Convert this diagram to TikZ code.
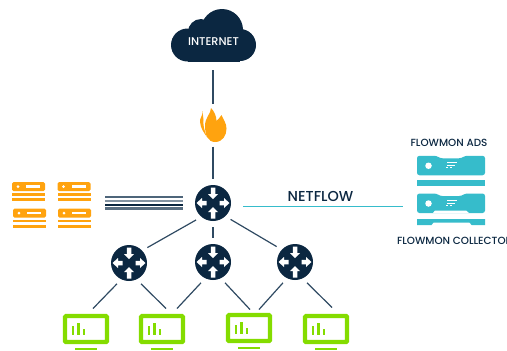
\documentclass[tikz,border=0pt]{standalone}
\usepackage{fontspec}
\setmainfont{Poppins Medium}
\usetikzlibrary{calc}
\definecolor{navy}{HTML}{0B2741}
\definecolor{wire}{HTML}{2F4A62}
\definecolor{amber}{HTML}{FFA30F}
\definecolor{teal}{HTML}{36BCCB}
\definecolor{lime}{HTML}{84DC00}
\begin{document}
\begin{tikzpicture}[inner sep=0pt,outer sep=0pt,
wire/.style={draw=wire,line width=0.024cm},
router/.style={circle,fill=navy,minimum size=0.72cm,outer sep=0.12cm},
monitor/.style={draw=lime,fill=white,line width=0.085cm,rounded corners=0.02cm,minimum width=0.84cm,minimum height=0.52cm},
srvbox/.style={minimum width=0.67cm,minimum height=0.40cm},
adsbox/.style={minimum width=1.36cm,minimum height=0.39cm},
label/.style={font=\fontsize{5.9}{7}\selectfont,text=navy},
routerglyph/.pic={
  \foreach \ang in {90,270}
    \fill[white,rotate=\ang] (0.08,0) -- (0.18,0.10) -- (0.18,0.045) -- (0.31,0.045) -- (0.31,-0.045) -- (0.18,-0.045) -- (0.18,-0.10) -- cycle;
  \foreach \ang in {0,180}
    \fill[white,rotate=\ang] (0.33,0) -- (0.22,0.10) -- (0.22,0.045) -- (0.13,0.045) -- (0.13,-0.045) -- (0.22,-0.045) -- (0.22,-0.10) -- cycle;
},
monglyph/.pic={
  \fill[lime] (-0.29,-0.12) rectangle (-0.24,0.06);
  \fill[lime] (-0.18,-0.12) rectangle (-0.13,0.13);
  \fill[lime] (-0.07,-0.12) rectangle (-0.02,0);
  \fill[lime] (-0.22,-0.42) rectangle (0.22,-0.38);
},
srvglyph/.pic={
  \fill[amber,rounded corners=0.03cm] (-0.33,0.20) rectangle (0.33,0.02);
  \fill[white] (-0.21,0.11) circle (0.03);
  \fill[white] (-0.05,0.09) rectangle (0.23,0.14);
  \fill[amber] (-0.33,-0.02) rectangle (0.33,-0.07);
  \fill[amber] (-0.33,-0.12) rectangle (0.33,-0.18);
},
adsglyph/.pic={
  \fill[teal,rounded corners=0.05cm] (-0.68,-0.19) -- (-0.68,0.20) -- (-0.29,0.20) -- (-0.22,0.15) -- (0.21,0.15) -- (0.28,0.20) -- (0.68,0.20) -- (0.68,-0.19) -- cycle;
  \fill[white] (-0.45,0) circle (0.065);
  \fill[white] (-0.09,0.07) rectangle (0.12,0.05);
  \fill[white] (-0.09,0.02) rectangle (0.08,0);
  \fill[white] (-0.11,-0.03) rectangle (-0.06,-0.05);
  \fill[white] (-0.03,-0.03) rectangle (0.02,-0.05);
}]
\useasboundingbox (0,0) rectangle (10.14,7);
\clip (0,0) rectangle (10.14,7);

% cloud
\fill[navy] (3.75,6.10) circle (0.33);
\fill[navy] (4.02,6.36) circle (0.26);
\fill[navy] (4.44,6.40) circle (0.42);
\fill[navy] (4.80,6.10) circle (0.32);
\fill[navy] (3.75,5.77) rectangle (4.80,6.30);
\draw (4.26,6.29) node[minimum width=1.7cm,minimum height=1.06cm,outer sep=0.16cm] (cloud) {};
\draw (4.27,6.16) node[font=\fontsize{6.4}{8}\selectfont,text=white] (inet) {INTERNET};

% firewall
\draw (4.26,4.50) node[minimum width=0.54cm,minimum height=0.68cm,outer sep=0.09cm] (fire) {};
\fill[amber] (4.22,4.84) .. controls (4.22,4.72) and (4.10,4.66) .. (4.10,4.48) .. controls (4.10,4.30) and (4.16,4.16) .. (4.30,4.16) .. controls (4.46,4.16) and (4.53,4.30) .. (4.53,4.43) .. controls (4.53,4.54) and (4.46,4.62) .. (4.43,4.70) .. controls (4.40,4.64) and (4.36,4.62) .. (4.33,4.58) .. controls (4.33,4.68) and (4.28,4.78) .. (4.22,4.84) -- cycle;
\fill[amber] (4.05,4.78) .. controls (4.06,4.68) and (3.99,4.64) .. (4.00,4.56) .. controls (4.01,4.44) and (4.08,4.34) .. (4.14,4.26) .. controls (4.08,4.40) and (4.06,4.50) .. (4.07,4.60) -- cycle;

% routers
\draw (4.26,2.94) node[router] (rtMain) {} pic {routerglyph};
\draw (2.58,1.74) node[router] (rtA) {} pic {routerglyph};
\draw (4.26,1.76) node[router] (rtB) {} pic {routerglyph};
\draw (5.90,1.76) node[router] (rtC) {} pic {routerglyph};

% monitors
\draw (1.72,0.42) node[monitor] (monA) {} pic {monglyph};
\draw (3.24,0.42) node[monitor] (monB) {} pic {monglyph};
\draw (4.98,0.44) node[monitor] (monC) {} pic {monglyph};
\draw (6.52,0.42) node[monitor] (monD) {} pic {monglyph};

% orange servers
\draw (0.57,3.16) node[srvbox] (srvA) {} pic {srvglyph};
\draw (1.48,3.16) node[srvbox] (srvB) {} pic {srvglyph};
\draw (0.59,2.63) node[srvbox] (srvC) {} pic {srvglyph};
\draw (1.49,2.63) node[srvbox] (srvD) {} pic {srvglyph};

% flowmon boxes
\draw (9.02,3.685) node[adsbox] (adsTop) {} pic {adsglyph};
\draw (9.02,2.93) node[adsbox] (adsCol) {} pic {adsglyph};
\fill[teal] (8.34,3.40) rectangle (9.70,3.28);
\fill[white] (8.66,2.74) -- (8.70,2.79) -- (9.32,2.79) -- (9.38,2.74) -- cycle;
\fill[teal] (8.34,2.62) -- (9.70,2.62) -- (9.70,2.50) -- (9.43,2.50) -- (9.39,2.55) -- (8.67,2.55) -- (8.63,2.50) -- (8.34,2.50) -- cycle;

% links
\draw[wire] (cloud.south) -- (fire.north);
\draw[wire] (fire.south) -- (rtMain.north);
\draw[wire] (rtMain.225) -- (rtA.40);
\draw[wire] (rtMain.south) -- (rtB.north);
\draw[wire] (rtMain.-43) -- (rtC.140);
\draw[wire] (rtA.240) -- ($(monA.north)+(0.14,0.15)$);
\draw[wire] (rtA.300) -- ($(monB.north)+(0.08,0.15)$);
\draw[wire] (rtB.240) -- ($(monB.north)+(0.30,0.15)$);
\draw[wire] (rtB.300) -- ($(monC.north)+(0.02,0.11)$);
\draw[wire] (rtC.240) -- ($(monC.north)+(0.20,0.11)$);
\draw[wire] (rtC.300) -- ($(monD.north)+(0.12,0.17)$);

% server bus
\coordinate (busL) at (2.10,2.94);
\coordinate (busR) at (3.66,2.94);
\foreach \yy/\col/\wd in {0.00/wire!85/0.05,-0.08/wire!60/0.05,-0.15/navy/0.04,-0.22/wire!80/0.06}
  \draw[draw=\col,line width=\wd cm] ($(busL)+(0,\yy+0.12)$) -- ($(busR)+(0,\yy+0.12)$);

% netflow
\coordinate (flowEnd) at (8.06,2.88);
\draw[draw=teal,line width=0.02cm,shorten <=0.12cm] (rtMain.east) ++(0,-0.06) -- (flowEnd);
\draw (6.41,3.08) node[font=\fontsize{8.2}{10}\selectfont,text=navy] (flowlbl) {NETFLOW};
\draw (8.98,4.14) node[label] (adslbl) {FLOWMON ADS};
\draw (7.94,2.18) node[label,anchor=west] (collbl) {FLOWMON COLLECTOR};
\end{tikzpicture}
\end{document}
